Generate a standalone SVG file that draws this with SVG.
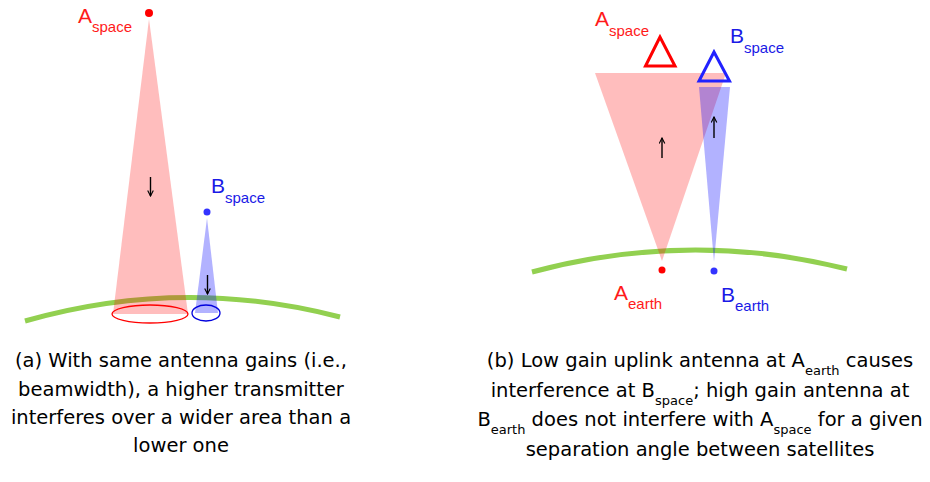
<svg xmlns="http://www.w3.org/2000/svg" width="930" height="482" viewBox="0 0 930 482">
<defs>
<marker id="ah" viewBox="0 0 10 10" refX="9" refY="5" markerWidth="7" markerHeight="7" markerUnits="userSpaceOnUse" orient="auto">
<path d="M1,1 L9,5 L1,9" fill="none" stroke="#000" stroke-width="1.6"/>
</marker>
</defs>
<style>
.earth{fill:none;stroke:#92d050;stroke-width:5}
.rbeam{fill:#ff0000;fill-opacity:0.26}
.bbeam{fill:#0000ff;fill-opacity:0.3}
.rtxt{fill:#ff1a1a;font-family:"Liberation Sans",Arial,sans-serif}
.btxt{fill:#1a1ae6;font-family:"Liberation Sans",Arial,sans-serif}
.big{font-size:21px}
.sub{font-size:15px}
.arr{stroke:#000;stroke-width:1.4;fill:none;marker-end:url(#ah)}
.cap{font-family:"DejaVu Sans",sans-serif;font-size:19.5px;fill:#000;text-anchor:middle}
.cs{font-size:13px}
</style>
<rect width="930" height="482" fill="#fff"/>
<g id="earth-a"><path class="earth" d="M25,321 Q182,276 340,317"/></g>
<g id="earth-b"><path class="earth" d="M532,272 Q690,229.5 847,269"/></g>
<g id="beams">
<polygon class="rbeam" points="149,19 113,314 188,314"/>
<polygon class="bbeam" points="207,218 195,313 218,313"/>
<polygon class="rbeam" points="595,73 726,73 662,261"/>
<polygon class="bbeam" points="699,87 730,87 714,262"/>
</g>
<g id="A-space-a">
<circle cx="149" cy="13" r="4" fill="#ff0000"/>
<text class="rtxt" x="78" y="23"><tspan class="big">A</tspan><tspan class="sub" dy="9">space</tspan></text>
</g>
<g id="B-space-a">
<circle cx="207" cy="212" r="3.5" fill="#3333ff"/>
<text class="btxt" x="211" y="193"><tspan class="big">B</tspan><tspan class="sub" dy="10">space</tspan></text>
</g>
<g id="footprints">
<ellipse cx="150" cy="314" rx="38" ry="9" fill="none" stroke="#ff0000" stroke-width="1.3"/>
<ellipse cx="206" cy="313" rx="14" ry="8" fill="none" stroke="#0000dd" stroke-width="1.3"/>
</g>
<g id="A-space-b">
<polygon points="660,37 645.5,66 675,66" fill="none" stroke="#ff0000" stroke-width="3"/>
<text class="rtxt" x="595" y="26"><tspan class="big">A</tspan><tspan class="sub" dy="10">space</tspan></text>
</g>
<g id="B-space-b">
<polygon points="714,52 699,81 729.5,81" fill="none" stroke="#2222ff" stroke-width="3"/>
<text class="btxt" x="730" y="43"><tspan class="big">B</tspan><tspan class="sub" dy="10">space</tspan></text>
</g>
<g id="A-earth">
<circle cx="662" cy="270" r="3.5" fill="#ff0000"/>
<text class="rtxt" x="614" y="300"><tspan class="big">A</tspan><tspan class="sub" dy="9">earth</tspan></text>
</g>
<g id="B-earth">
<circle cx="714" cy="271" r="3.5" fill="#3333ff"/>
<text class="btxt" x="721" y="302"><tspan class="big">B</tspan><tspan class="sub" dy="9">earth</tspan></text>
</g>
<g id="connectors">
<line class="arr" x1="150.5" y1="177" x2="150.5" y2="196"/>
<line class="arr" x1="207.5" y1="275" x2="207.5" y2="294"/>
<line class="arr" x1="662" y1="158" x2="662" y2="138"/>
<line class="arr" x1="714" y1="138" x2="714" y2="117"/>
</g>
<g id="caption-a">
<text class="cap" x="181" y="367">(a) With same antenna gains (i.e.,</text>
<text class="cap" x="181" y="396">beamwidth), a higher transmitter</text>
<text class="cap" x="181" y="424">interferes over a wider area than a</text>
<text class="cap" x="181" y="452">lower one</text>
</g>
<g id="caption-b">
<text class="cap" x="700" y="367">(b) Low gain uplink antenna at A<tspan class="cs" dy="8">earth</tspan><tspan dy="-8"> causes</tspan></text>
<text class="cap" x="700" y="396.5">interference at B<tspan class="cs" dy="8">space</tspan><tspan dy="-8">; high gain antenna at</tspan></text>
<text class="cap" x="700" y="426">B<tspan class="cs" dy="8">earth</tspan><tspan dy="-8"> does not interfere with A</tspan><tspan class="cs" dy="8">space</tspan><tspan dy="-8"> for a given</tspan></text>
<text class="cap" x="700" y="455.5">separation angle between satellites</text>
</g>
</svg>
